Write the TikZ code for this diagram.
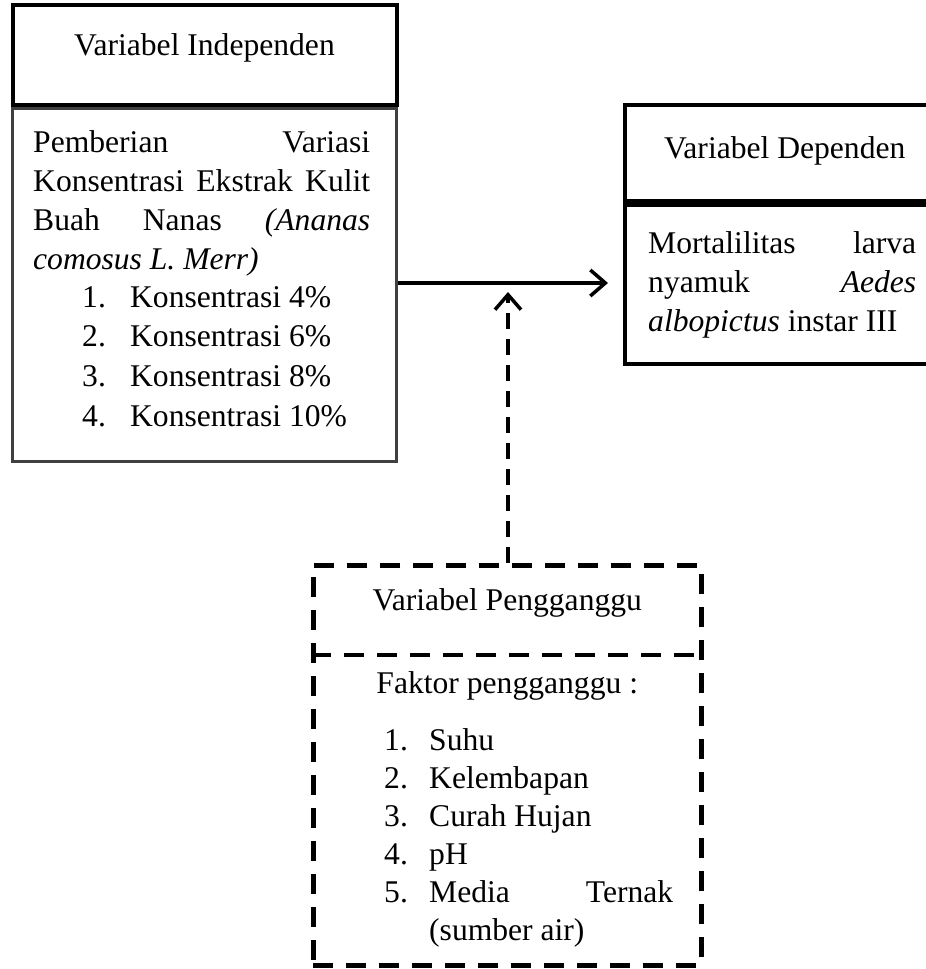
\documentclass[tikz,border=0pt]{standalone}
\usepackage{fontspec}
\setmainfont{Liberation Serif}
\usetikzlibrary{arrows.meta, positioning}

% justified line of a given width
\newcommand{\jline}[2]{\makebox[#1][s]{\spaceskip=0pt\xspaceskip=0pt #2}}

\begin{document}
\begin{tikzpicture}[
        x=1pt, y=-1pt,
        bodybox/.style={rectangle, draw, line width=3.5pt, anchor=north west, inner sep=0pt},
        headbox/.style={rectangle, draw, line width=4pt, inner sep=0pt},
        dashline/.style={line width=4.5pt, dash pattern=on 20pt off 13pt},
        txt/.style={inner sep=0pt, font=\fontsize{31.6pt}{38pt}\selectfont},
        arrow/.style={-{Straight Barb[length=15pt, width=26pt]}, line width=3.5pt}
    ]
        \path[use as bounding box, clip] (0,0) rectangle (926,969);

        % Independent variable
        \node[bodybox, draw=black!75, line width=3pt, minimum width=384pt, minimum height=353pt] (indepbody) at (11,107) {};
        \node[headbox, above=0pt of indepbody, minimum width=384pt, minimum height=100pt] (indephead) {};
        \node[txt, anchor=base] (indeptitle) at (indephead.center) {Variabel Independen};
        \node[txt, anchor=base west, text width=337pt, align=justify, font=\fontsize{31.6pt}{39pt}\selectfont] (indepdesc) at ([xshift=22pt, yshift=-45pt]indepbody.north west)
            {\jline{337pt}{Pemberian Variasi}\\
             \jline{337pt}{Konsentrasi Ekstrak Kulit}\\
             \jline{337pt}{Buah Nanas \textit{(Ananas}}\\
             \textit{comosus L. Merr)}};
        \node[txt, anchor=base west, font=\fontsize{31.6pt}{39.7pt}\selectfont] (indeplist) at ([xshift=71pt, yshift=-200pt]indepbody.north west)
            {\begin{tabular}[t]{@{}p{48pt}@{}l@{}}
                1. & Konsentrasi 4\%\\
                2. & Konsentrasi 6\%\\
                3. & Konsentrasi 8\%\\
                4. & Konsentrasi 10\%
             \end{tabular}};

        % Dependent variable
        \node[bodybox, minimum width=320pt, minimum height=159pt] (depbody) at (623,203) {};
        \node[headbox, above=0pt of depbody, minimum width=320pt, minimum height=96pt] (dephead) {};
        \node[txt, anchor=base] (deptitle) at ([yshift=-5pt]dephead.center) {Variabel Dependen};
        \node[txt, anchor=base west, text width=268pt, align=justify, font=\fontsize{31.6pt}{39pt}\selectfont] (depdesc) at ([xshift=25pt, yshift=-50pt]depbody.north west)
            {\jline{268pt}{Mortalilitas larva}\\
             \jline{268pt}{nyamuk \textit{Aedes}}\\
             \textit{albopictus} instar III};

        % Confounding variable
        \node[rectangle, draw, dashline, anchor=north west, inner sep=0pt, minimum width=388pt, minimum height=400pt] (confbox) at (311,563) {};
        \draw[dashline] ([yshift=-92pt]confbox.north west) -- ([yshift=-92pt]confbox.north east);
        \node[txt, anchor=base] (conftitle) at ([yshift=-47pt]confbox.north) {Variabel Pengganggu};
        \node[txt, anchor=base] (conffactor) at ([yshift=-130pt]confbox.north) {Faktor pengganggu :};
        \node[txt, anchor=base west, font=\fontsize{31.6pt}{38pt}\selectfont] (conflist) at ([xshift=73pt, yshift=-187pt]confbox.north west)
            {\begin{tabular}[t]{@{}p{45pt}@{}l@{}}
                1. & Suhu\\
                2. & Kelembapan\\
                3. & Curah Hujan\\
                4. & pH\\
                5. & \jline{244pt}{Media Ternak}\\
                   & (sumber air)
             \end{tabular}};

        % Arrows
        \coordinate (junction) at (508,283);
        \draw[arrow, shorten >=15pt] (indepbody.east |- junction) -- (depbody.west |- junction);
        \draw[arrow, dash pattern=on 16pt off 10pt, shorten >=9pt] (confbox.north -| junction) -- (junction);

    \end{tikzpicture}
\end{document}
